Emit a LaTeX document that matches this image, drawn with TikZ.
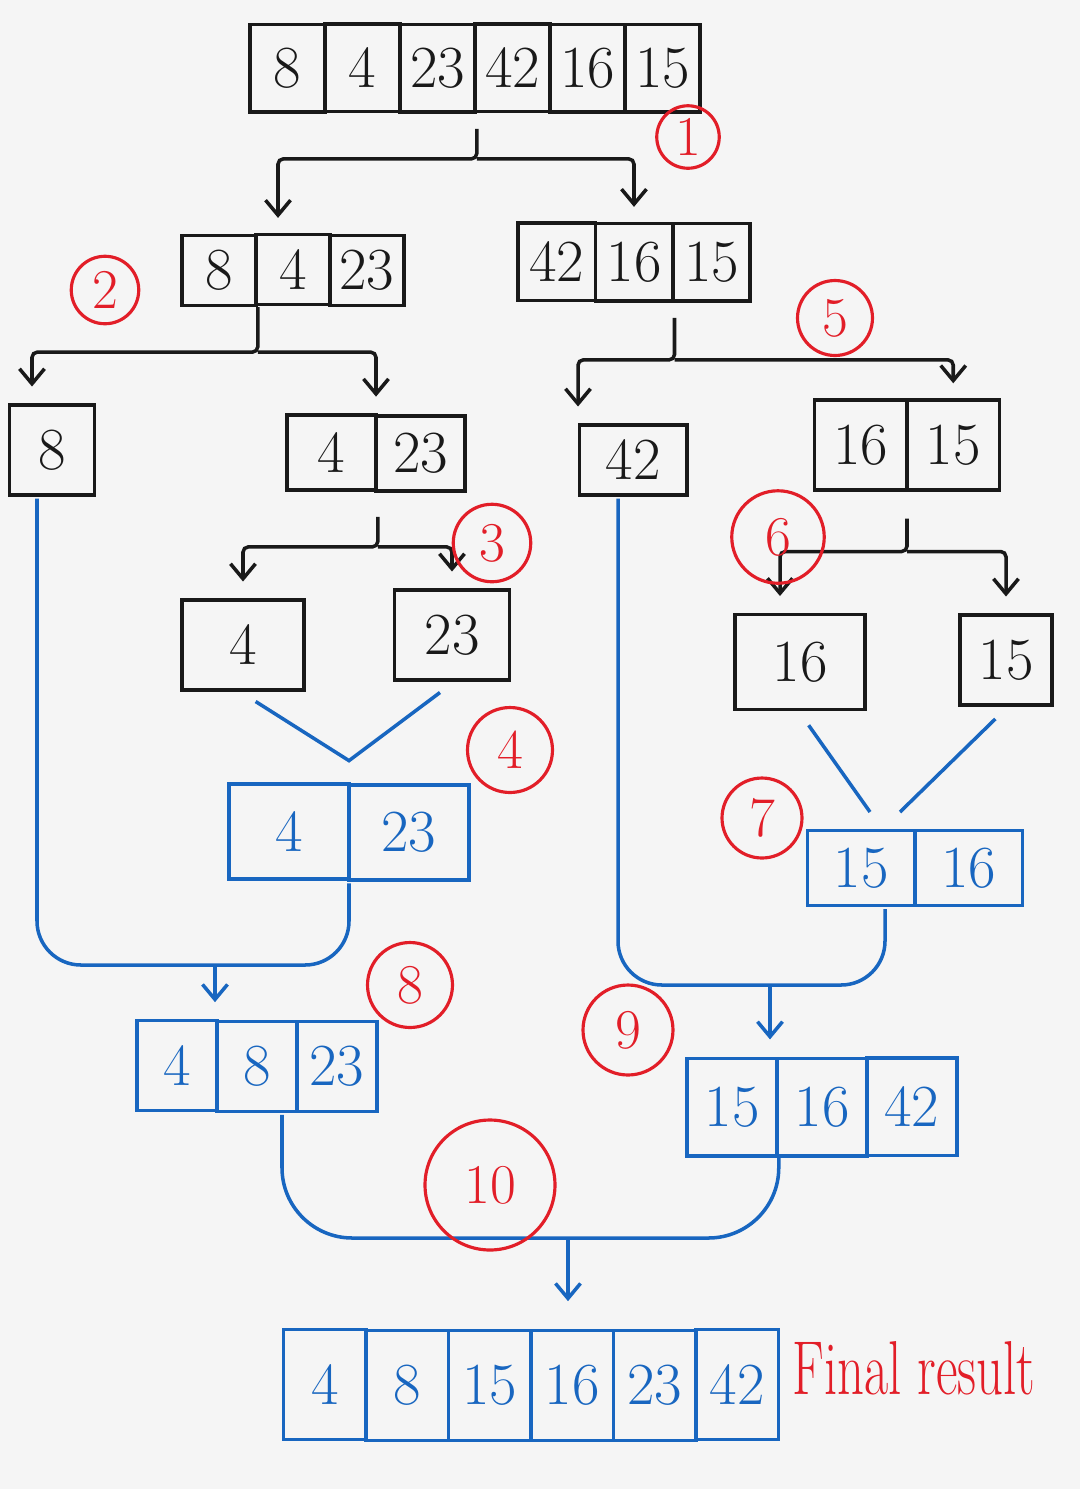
\documentclass[tikz,border=0pt]{standalone}
\usepackage{xcolor}
\usepackage{tikz}
\usetikzlibrary{positioning,matrix,calc,arrows.meta}
\definecolor{ink}{RGB}{25,25,25}
\definecolor{penblue}{RGB}{24,102,192}
\definecolor{penred}{RGB}{226,30,40}
\definecolor{paper}{RGB}{245,245,245}

\begin{document}
\begin{tikzpicture}[x=0.02cm, y=-0.02cm, line width=2pt,
		>={Straight Barb[length=3mm,width=5mm]},
		font=\fontsize{34}{40}\selectfont,
		blackvec/.style={matrix of nodes, inner sep=0pt,
			nodes={draw=ink, text=ink, line width=2pt, inner sep=2pt},
			column sep=-2pt, nodes in empty cells},
		bluevec/.style={matrix of nodes, inner sep=0pt,
			nodes={draw=penblue, text=penblue, line width=2pt, inner sep=2pt},
			column sep=-2pt, nodes in empty cells},
		stepno/.style={circle, draw=penred, text=penred, line width=1.8pt, inner sep=0pt,
			font=\fontsize{32}{36}\selectfont},
		split/.style={draw=ink, ->, rounded corners=3pt, shorten >=3mm},
		bline/.style={draw=penblue, rounded corners=25pt}]
		\fill[paper] (0,0) rectangle (1080,1489);
		\useasboundingbox (0,0) rectangle (1080,1489);

		% splitting
		\matrix[blackvec, nodes={minimum width=1.5cm, minimum height=1.75cm}] (a0) at (475,68){
				8& 4& 23& 42& 16& 15\\};
		\matrix[blackvec, nodes={minimum width=1.48cm, minimum height=1.4cm}] (a1) at (293,270){
				8& 4& 23\\};
		\matrix[blackvec, nodes={minimum width=1.55cm, minimum height=1.55cm}] (a2) at (634,262){
				42& 16& 15\\};
		\matrix[blackvec, nodes={minimum width=1.7cm, minimum height=1.8cm}] (b1) at (52,450){
				8\\};
		\matrix[blackvec, nodes={minimum width=1.78cm, minimum height=1.5cm}] (b2) at (376,453){
				4& 23\\};
		\matrix[blackvec, nodes={minimum width=2.15cm, minimum height=1.4cm}] (b3) at (633,460){
				42\\};
		\matrix[blackvec, nodes={minimum width=1.85cm, minimum height=1.8cm}] (b4) at (907,445){
				16& 15\\};
		\matrix[blackvec, nodes={minimum width=2.45cm, minimum height=1.8cm}] (c1) at (243,645){
				4\\};
		\matrix[blackvec, nodes={minimum width=2.3cm, minimum height=1.8cm}] (c2) at (452,635){
				23\\};
		\matrix[blackvec, nodes={minimum width=2.6cm, minimum height=1.9cm}] (c3) at (800,662){
				16\\};
		\matrix[blackvec, nodes={minimum width=1.85cm, minimum height=1.8cm}] (c4) at (1006,660){
				15\\};

		% merging
		\matrix[bluevec, nodes={minimum width=2.4cm, minimum height=1.9cm}] (d1) at (349,832){
				4& 23\\};
		\matrix[bluevec, nodes={minimum width=2.15cm, minimum height=1.5cm}] (d2) at (915,868){
				15& 16\\};
		\matrix[bluevec, nodes={minimum width=1.6cm, minimum height=1.8cm}] (e1) at (257,1066){
				4& 8& 23\\};
		\matrix[bluevec, nodes={minimum width=1.8cm, minimum height=1.95cm}] (e2) at (822,1107){
				15& 16& 42\\};
		\matrix[bluevec, nodes={minimum width=1.65cm, minimum height=2.2cm}] (f1) at (531,1385){
				4& 8& 15& 16& 23& 42\\};

		\node[text=penred, anchor=west, font=\fontsize{30}{36}\selectfont] (result) at (785,1368)
			{\scalebox{1}[1.45]{Final result}};

		\draw[split, shorten <=3mm] (a0-1-3.south east) -- ++(0,45) coordinate (j1) -| ([xshift=-3mm]a1-1-2.north);
		\draw[split] (j1) -| (a2-1-2.north);
		\draw[split] (a1-1-1.south east) -- ++(0,45) coordinate (j2) -| ([xshift=-4mm]b1.north);
		\draw[split] (j2) -| (b2.north);
		\draw[split, shorten <=3mm] (a2-1-2.south east) -- ++(0,57) coordinate (j5) -| ([xshift=-1.1cm]b3.north);
		\draw[split] (j5) -| (b4-1-2.north);
		\draw[split, shorten <=5mm] (b2-1-1.south east) -- ++(0,55) coordinate (j3) -| (c1.north);
		\draw[split] (j3) -| (c2.north);
		\draw[split, shorten <=5mm] (b4.south) -- ++(0,58) coordinate (j6) -| ([xshift=-4mm]c3.north);
		\draw[split] (j6) -| (c4.north);

		\draw[draw=penblue, shorten <=3mm, shorten >=3mm] (c1.south) -- ([yshift=4mm]d1.north) -- (c2.south);
		\draw[draw=penblue, shorten <=3mm] (c3.south) -- ([xshift=-9mm,yshift=3mm]d2.north);
		\draw[draw=penblue, shorten <=3mm] (c4.south) -- ([xshift=-3mm,yshift=3mm]d2.north);

		\coordinate (k8) at (215,965);
		\coordinate (k9) at (770,985);
		\coordinate (k10) at (568,1238);
		\draw[bline] ([xshift=-3mm]b1.south) |- (k8) -| (d1.south);
		\draw[draw=penblue, ->, shorten >=3mm] (k8) -- (k8 |- e1.north);
		\draw[bline] ([xshift=-3mm]b3.south) |- (k9) -| ([xshift=-6mm]d2.south);
		\draw[draw=penblue, ->, shorten >=3mm] (k9) -- (k9 |- e2.north);
		\draw[bline, rounded corners=40pt] ([xshift=5mm]e1.south) |- (k10) -| (e2-1-1.south east);
		\draw[draw=penblue, ->, shorten >=5mm] (k10) -- (k10 |- f1.north);

		\node[stepno, minimum size=1.25cm] (n1) at (688,137) {1};
		\node[stepno, minimum size=1.35cm] (n2) at (105,290) {2};
		\node[stepno, minimum size=1.55cm] (n3) at (492,543) {3};
		\node[stepno, minimum size=1.7cm] (n4) at (510,750) {4};
		\node[stepno, minimum size=1.5cm] (n5) at (835,318) {5};
		\node[stepno, minimum size=1.85cm] (n6) at (778,537) {6};
		\node[stepno, minimum size=1.6cm] (n7) at (762,818) {7};
		\node[stepno, minimum size=1.7cm] (n8) at (410,985) {8};
		\node[stepno, minimum size=1.8cm] (n9) at (628,1030) {9};
		\node[stepno, minimum size=2.6cm] (n10) at (490,1185) {10};
	\end{tikzpicture}
\end{document}
